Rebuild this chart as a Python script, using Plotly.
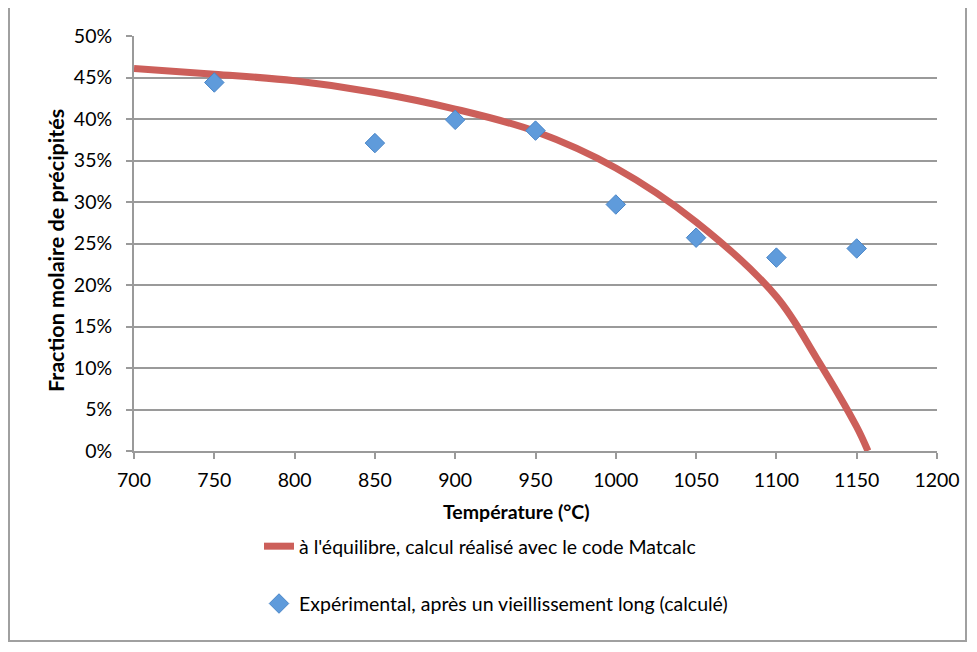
import plotly.graph_objects as go

# Data
temp_exp = [750, 850, 900, 950, 1000, 1050, 1100, 1150]
frac_exp = [0.444, 0.371, 0.399, 0.386, 0.297, 0.257, 0.233, 0.244]

temp_calc = [700, 750, 800, 850, 900, 950, 1000, 1050, 1100, 1125, 1150, 1157]
frac_calc = [0.461, 0.454, 0.446, 0.432, 0.412, 0.385, 0.341, 0.276, 0.186, 0.112, 0.029, 0.0]

name_calc = "à l'équilibre, calcul réalisé avec le code Matcalc"
name_exp = "Expérimental, après un vieillissement long (calculé)"
x_title = "Température (°C)"
y_title = "Fraction molaire de précipités"

FONT = "Lato, 'Liberation Sans', Arial, sans-serif"
GRID = "#9a9a9a"
OFF = 8  # page body margin

fig = go.Figure()
fig.add_trace(go.Scatter(
    x=temp_calc, y=frac_calc, mode="lines", name=name_calc,
    line=dict(color="#CC5F5A", width=7, shape="spline", smoothing=1.0),
    legendgroup="a",
))
fig.add_trace(go.Scatter(
    x=temp_exp, y=frac_exp, mode="markers", name=name_exp,
    marker=dict(symbol="diamond", size=15, color="#5F9BDB",
                line=dict(color="#4A86C8", width=1)),
    legendgroup="b",
))

W, H = 977 - OFF, 652 - OFF
L, T = 134 - OFF, 36 - OFF
pw, ph = 803, 415
R = W - L - pw
B = H - T - ph

def px_x(px):
    return (px - OFF - L) / pw

def px_y(py):
    return (T + ph - (py - OFF)) / ph

fig.update_layout(
    width=W, height=H,
    margin=dict(l=L, r=R, t=T, b=B, autoexpand=False),
    paper_bgcolor="white", plot_bgcolor="white",
    font=dict(family=FONT, size=19.5, color="#000000"),
    showlegend=True,
    legend=dict(
        x=px_x(259), y=px_y(527), xanchor="left", yanchor="top",
        font=dict(size=19.5), tracegroupgap=29, itemwidth=30,
        bgcolor="rgba(0,0,0,0)",
    ),
    xaxis=dict(
        range=[700, 1200], tickvals=[700, 750, 800, 850, 900, 950, 1000, 1050, 1100, 1150, 1200],
        showgrid=False, zeroline=False,
        showline=True, linecolor=GRID, linewidth=2,
        ticks="outside", ticklen=6, tickwidth=2, tickcolor=GRID,
        ticklabelstandoff=5,
    ),
    yaxis=dict(
        range=[0, 0.5], tickvals=[0, 0.05, 0.1, 0.15, 0.2, 0.25, 0.3, 0.35, 0.4, 0.45, 0.5],
        tickformat=".0%",
        showgrid=True, gridcolor=GRID, gridwidth=2,
        zeroline=False,
        showline=True, linecolor=GRID, linewidth=2,
        ticks="outside", ticklen=6, tickwidth=2, tickcolor=GRID,
        ticklabelstandoff=10,
    ),
    annotations=[
        dict(text="<b>" + x_title + "</b>", xref="paper", yref="paper",
             x=px_x(516), y=px_y(511), xanchor="center", yanchor="middle",
             showarrow=False, font=dict(size=19.5)),
        dict(text="<b>" + y_title + "</b>", xref="paper", yref="paper",
             x=px_x(56), y=px_y(251), xanchor="center", yanchor="middle",
             textangle=-90, showarrow=False, font=dict(size=21.5)),
    ],
    shapes=[dict(
        type="rect", xref="paper", yref="paper",
        x0=px_x(9), x1=px_x(966), y0=px_y(641), y1=px_y(7),
        line=dict(color="#a0a0a0", width=2), fillcolor="rgba(0,0,0,0)", layer="below",
    )],
)

fig.write_html("out.html")
